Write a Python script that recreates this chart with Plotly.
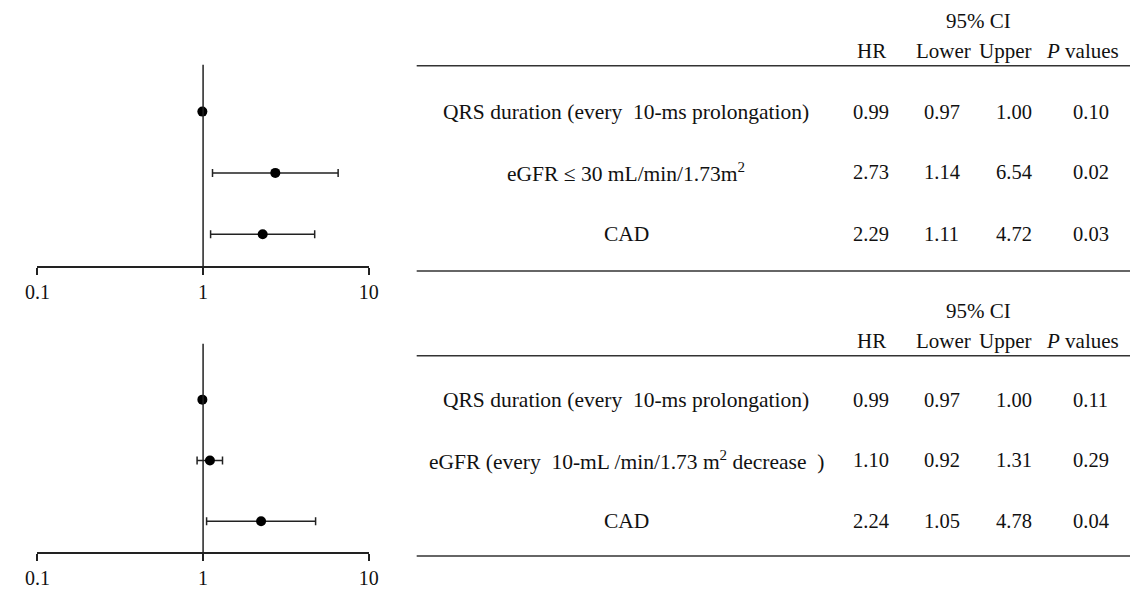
import plotly.graph_objects as go

# ---- data -------------------------------------------------------------
labels_a = [
    "QRS duration (every  10-ms prolongation)",
    "eGFR \u2264 30 mL/min/1.73m<sup>2</sup>",
    "CAD",
]
hr_a = [0.99, 2.73, 2.29]
lower_a = [0.97, 1.14, 1.11]
upper_a = [1.00, 6.54, 4.72]
p_a = ["0.10", "0.02", "0.03"]

labels_b = [
    "QRS duration (every  10-ms prolongation)",
    "eGFR (every  10-mL /min/1.73 m<sup>2</sup> decrease  )",
    "CAD",
]
hr_b = [0.99, 1.10, 2.24]
lower_b = [0.97, 0.92, 1.05]
upper_b = [1.00, 1.31, 4.78]
p_b = ["0.11", "0.29", "0.04"]

tick_vals = [0.1, 1, 10]
tick_text = ["0.1", "1", "10"]
headers = ["HR", "Lower", "Upper", "<i>P</i> values"]

# ---- layout helpers ----------------------------------------------------
W, H = 1140, 589
FONT = "Liberation Serif"
INK = "#111111"


def px(x):
    return x / W


def py(y):
    return 1 - y / H


fig = go.Figure()

panels = [
    # labels, hr, lower, upper, p, axis suffix, plot top, axis y, row ys, header y, CI y, rule 1, rule 2 (px)
    (labels_a, hr_a, lower_a, upper_a, p_a, "", 65, 267, [112, 173, 235], 51, 21, 66, 272),
    (labels_b, hr_b, lower_b, upper_b, p_b, "2", 345, 554, [401, 462, 523], 342, 312, 357, 558),
]

annotations = []
shapes = []

for (labs, hr, lo, up, pv, sfx, top, bottom, rows, hdr_y, ci_y, line1, line2) in panels:
    n = len(hr)
    # y values: first row at the top
    yvals = [n - i for i in range(n)]
    unit = (rows[-1] - rows[0]) / (n - 1)
    y_lo = 1 - (bottom - rows[-1]) / unit
    y_hi = n + (rows[0] - top) / unit

    fig.add_trace(go.Scatter(
        x=hr, y=yvals, mode="markers",
        marker=dict(color="black", size=10),
        error_x=dict(type="data", symmetric=False,
                     array=[u - h for u, h in zip(up, hr)],
                     arrayminus=[h - l for h, l in zip(hr, lo)],
                     color="#222222", thickness=1.5, width=4),
        xaxis="x" + sfx, yaxis="y" + sfx, showlegend=False, hoverinfo="skip",
    ))

    layout_x = dict(
        type="log", range=[-1, 1], domain=[px(25), px(363)],
        anchor="y" + sfx, showline=True, linecolor="#222222", linewidth=1.5,
        ticks="outside", ticklen=7, tickwidth=1.5, tickcolor="#222222",
        tickvals=tick_vals, ticktext=tick_text, showgrid=False, zeroline=False,
        tickfont=dict(family=FONT, size=20, color=INK), fixedrange=True,
    )
    layout_y = dict(
        range=[y_lo, y_hi], domain=[py(bottom), py(top)], anchor="x" + sfx,
        visible=False, showgrid=False, zeroline=False, fixedrange=True,
    )
    fig.update_layout({"xaxis" + sfx: layout_x, "yaxis" + sfx: layout_y})

    # reference line at HR = 1
    shapes.append(dict(type="line", xref="x" + sfx, yref="y" + sfx + " domain",
                       x0=1, x1=1, y0=0, y1=1,
                       line=dict(color="#222222", width=1.5)))

    # table rules
    for ly in (line1, line2):
        shapes.append(dict(type="line", xref="paper", yref="paper",
                           x0=px(412), x1=1, y0=py(ly), y1=py(ly),
                           line=dict(color="#333333", width=1.5)))

    # header
    annotations.append(dict(text="95% CI", x=px(985), y=py(ci_y), font_size=21))
    for htxt, hx in zip(headers, [876, 950, 1012, 1092]):
        annotations.append(dict(text=htxt, x=px(hx), y=py(hdr_y), font_size=21))

    # rows
    for i in range(n):
        ry = py(rows[i])
        annotations.append(dict(text=labs[i], x=px(626), y=ry, font_size=21.5))
        for val, cx in zip([f"{hr[i]:.2f}", f"{lo[i]:.2f}", f"{up[i]:.2f}", pv[i]],
                           [876, 948, 1022, 1100]):
            annotations.append(dict(text=val, x=cx / W, y=ry, font_size=20.5))

for a in annotations:
    size = a.pop("font_size")
    a.update(xref="paper", yref="paper", xanchor="center", yanchor="middle",
             showarrow=False, font=dict(family=FONT, size=size, color=INK))

fig.update_layout(
    width=W, height=H, margin=dict(l=0, r=0, t=0, b=0),
    paper_bgcolor="white", plot_bgcolor="white",
    annotations=annotations, shapes=shapes,
)

fig.write_html("out.html", config={"displayModeBar": False})
